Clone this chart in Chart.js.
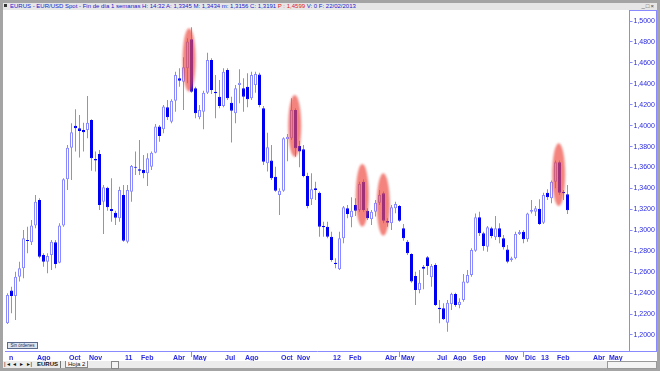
<!DOCTYPE html>
<html>
<head>
<meta charset="utf-8">
<script src="https://cdn.jsdelivr.net/npm/chart.js@4.4.1/dist/chart.umd.min.js"></script>
<style>
  html, body { margin: 0; padding: 0; width: 660px; height: 371px; overflow: hidden; background: #a4a4a4; font-family: "Liberation Sans", Arial, sans-serif; }
  #paper { position: absolute; left: 3px; top: 10px; width: 654px; height: 351px; background: #fff; }
  #title { position: absolute; left: 3px; top: 3px; width: 654px; height: 7px; background: #e6e6e6; color: #2020d0; font-size: 6px; line-height: 7px; white-space: nowrap; }
  #title .ico { display: inline-block; width: 3px; height: 3px; background: #333; margin: 0 3px 1px 1px; }
  #title .p { color: #e02020; }
  #ctl { position: absolute; right: 5px; top: 3px; font-size: 6px; line-height: 7px; color: #444; letter-spacing: 1px; }
  #c { position: absolute; left: 0; top: 10px; }
  #ybox { position: absolute; left: 629px; top: 10px; width: 26px; height: 340px; border: 1px solid #8a8aff; pointer-events: none; }
  #orders { position: absolute; left: 7px; top: 342px; width: 29px; height: 5px; border: 1px solid #5a6a8a; background: #dde6f0; color: #203060; font-size: 4.5px; line-height: 5px; text-align: center; }
  #tabs { position: absolute; left: 3px; top: 361px; width: 654px; height: 7px; background: #ececec; font-size: 6px; line-height: 7px; color: #111; }
  #tabs span { position: absolute; top: 0; }
  #nav { left: 1px; letter-spacing: 1px; }
  #t1 { left: 34px; font-weight: bold; border-right: 1px solid #777; padding-right: 2px; }
  #t2 { left: 62px; border: 1px solid #888; border-top: 0; padding: 0 2px; height: 6px; background: #f6f6f6; }
  #sc1 { left: 108px; width: 6px; height: 6px; border: 1px solid #888; background: #f4f4f4; }
  #sc2 { left: 604px; width: 48px; height: 6px; border: 1px solid #999; background: #f4f4f4; }
</style>
</head>
<body>
<div id="paper"></div>
<div id="title"><span class="ico"></span>EURUS - EUR/USD Spot - Fin de día 1 semanas H: 14:32 A: 1,3345 M: 1,3434 m: 1,3156 C: 1,3191 <span class="p">P : 1,4599</span> V: 0 F: 22/02/2013</div>
<div id="ctl">_□×</div>
<canvas id="c" width="660" height="351"></canvas>
<div id="ybox"></div>
<div id="orders">Sin órdenes</div>
<div id="tabs">
  <span id="nav">|◂ ◂ ▸ ▸|</span>
  <span id="t1">EURUS</span>
  <span id="t2">Hoja 2</span>
  <span id="sc1"></span>
  <span id="sc2"></span>
</div>
<script>
// EUR/USD weekly candles, week ending 18/06/2010 .. 22/02/2013
const openP = [
  1.2112, 1.2424, 1.2373, 1.2557, 1.2637, 1.2908, 1.2885, 1.3045, 1.3290, 1.2764,
  1.2701, 1.2764, 1.2885, 1.2691, 1.3045, 1.3487, 1.3790, 1.4000, 1.3975, 1.3959,
  1.3959, 1.4054, 1.3682, 1.3729, 1.3274, 1.3408, 1.3204, 1.3169, 1.3115, 1.3338,
  1.2892, 1.3369, 1.3608, 1.3583, 1.3577, 1.3545, 1.3608, 1.3742, 1.3991, 1.3965,
  1.4175, 1.4038, 1.4239, 1.4452, 1.4420, 1.4548, 1.4825, 1.4357, 1.4080, 1.4134,
  1.4315, 1.4627, 1.4325, 1.4277, 1.4188, 1.4532, 1.4220, 1.4118, 1.4389, 1.4357,
  1.4373, 1.4261, 1.4389, 1.4490, 1.4166, 1.3640, 1.3666, 1.3513, 1.3338, 1.3379,
  1.3870, 1.3879, 1.4150, 1.3806, 1.3774, 1.3519, 1.3296, 1.3401, 1.3360, 1.3041,
  1.3035, 1.2939, 1.2691, 1.2627, 1.2924, 1.3210, 1.3124, 1.3242, 1.3194, 1.3465,
  1.3188, 1.3105, 1.3178, 1.3264, 1.3354, 1.3089, 1.3067, 1.3210, 1.3233, 1.3019,
  1.2892, 1.2774, 1.2564, 1.2430, 1.2653, 1.2742, 1.2551, 1.2669, 1.2261, 1.2255,
  1.2118, 1.2296, 1.2392, 1.2287, 1.2334, 1.2500, 1.2573, 1.2806, 1.3124, 1.2971,
  1.2844, 1.3019, 1.2933, 1.3019, 1.2924, 1.2818, 1.2717, 1.2733, 1.2965, 1.2987,
  1.2914, 1.3178, 1.3178, 1.3207, 1.3073, 1.3360, 1.3306, 1.3465, 1.3650, 1.3366,
  1.3345
];
const highP = [
  1.2398, 1.2462, 1.2605, 1.2701, 1.3003, 1.3035, 1.3099, 1.3338, 1.3306, 1.2780,
  1.2780, 1.2908, 1.2908, 1.3067, 1.3497, 1.3815, 1.4022, 1.4156, 1.4102, 1.4029,
  1.4284, 1.4061, 1.3752, 1.3768, 1.3433, 1.3417, 1.3497, 1.3188, 1.3417, 1.3433,
  1.3433, 1.3624, 1.3752, 1.3863, 1.3720, 1.3736, 1.3752, 1.4016, 1.4006, 1.4198,
  1.4245, 1.4252, 1.4516, 1.4548, 1.4653, 1.4835, 1.4940, 1.4373, 1.4198, 1.4334,
  1.4697, 1.4643, 1.4484, 1.4436, 1.4548, 1.4548, 1.4277, 1.4389, 1.4539, 1.4452,
  1.4500, 1.4516, 1.4516, 1.4506, 1.4188, 1.3933, 1.3815, 1.3608, 1.3401, 1.3889,
  1.3920, 1.4261, 1.4166, 1.3857, 1.3815, 1.3551, 1.3545, 1.3465, 1.3370, 1.3083,
  1.3083, 1.2987, 1.2733, 1.2987, 1.3233, 1.3242, 1.3315, 1.3306, 1.3465, 1.3487,
  1.3210, 1.3194, 1.3290, 1.3385, 1.3370, 1.3115, 1.3242, 1.3274, 1.3242, 1.3061,
  1.2908, 1.2780, 1.2605, 1.2621, 1.2669, 1.2755, 1.2678, 1.2685, 1.2334, 1.2303,
  1.2334, 1.2404, 1.2404, 1.2350, 1.2583, 1.2621, 1.2828, 1.3162, 1.3178, 1.2987,
  1.3041, 1.3035, 1.3137, 1.3067, 1.2955, 1.2860, 1.2748, 1.2987, 1.3003, 1.3003,
  1.3169, 1.3290, 1.3232, 1.3296, 1.3360, 1.3392, 1.3475, 1.3666, 1.3666, 1.3385,
  1.3434
];
const lowP = [
  1.2105, 1.2207, 1.2143, 1.2510, 1.2541, 1.2780, 1.2860, 1.3019, 1.2733, 1.2653,
  1.2589, 1.2621, 1.2637, 1.2685, 1.3035, 1.3385, 1.3481, 1.3752, 1.3697, 1.3752,
  1.3879, 1.3570, 1.3561, 1.3194, 1.2965, 1.3188, 1.3083, 1.3051, 1.3083, 1.2892,
  1.2876, 1.3274, 1.3529, 1.3529, 1.3497, 1.3424, 1.3576, 1.3736, 1.3847, 1.3927,
  1.4054, 1.4022, 1.4134, 1.4373, 1.4150, 1.4405, 1.4315, 1.4070, 1.4061, 1.3965,
  1.4303, 1.4303, 1.4070, 1.4166, 1.4175, 1.4245, 1.3838, 1.4022, 1.4213, 1.4134,
  1.4175, 1.4245, 1.4315, 1.4175, 1.3624, 1.3561, 1.3481, 1.3369, 1.3147, 1.3369,
  1.3660, 1.3863, 1.3704, 1.3602, 1.3507, 1.3210, 1.3242, 1.3290, 1.2939, 1.2939,
  1.2924, 1.2701, 1.2637, 1.2621, 1.2876, 1.3115, 1.3029, 1.3137, 1.3178, 1.3178,
  1.3099, 1.3051, 1.3131, 1.3242, 1.3067, 1.3035, 1.3003, 1.3163, 1.3083, 1.2901,
  1.2764, 1.2500, 1.2287, 1.2398, 1.2436, 1.2573, 1.2462, 1.2277, 1.2112, 1.2143,
  1.2032, 1.2239, 1.2271, 1.2255, 1.2318, 1.2494, 1.2557, 1.2796, 1.2946, 1.2806,
  1.2796, 1.2924, 1.2908, 1.2876, 1.2818, 1.2685, 1.2701, 1.2723, 1.2955, 1.2876,
  1.2892, 1.3162, 1.3137, 1.3051, 1.3060, 1.3290, 1.3258, 1.3401, 1.3338, 1.3290,
  1.3156
];
const closeP = [
  1.2382, 1.2373, 1.2557, 1.2637, 1.2924, 1.2898, 1.3045, 1.3274, 1.2748, 1.2701,
  1.2755, 1.2892, 1.2678, 1.3045, 1.3487, 1.3790, 1.3936, 1.3975, 1.3949, 1.3936,
  1.4029, 1.3688, 1.3666, 1.3242, 1.3411, 1.3220, 1.3185, 1.3121, 1.3385, 1.2901,
  1.3385, 1.3615, 1.3599, 1.3570, 1.3545, 1.3688, 1.3742, 1.3991, 1.3901, 1.4182,
  1.4080, 1.4239, 1.4484, 1.4430, 1.4557, 1.4803, 1.4325, 1.4118, 1.4150, 1.4315,
  1.4627, 1.4341, 1.4309, 1.4188, 1.4516, 1.4261, 1.4143, 1.4357, 1.4411, 1.4277,
  1.4252, 1.4484, 1.4494, 1.4198, 1.3656, 1.3793, 1.3497, 1.3379, 1.3379, 1.3879,
  1.3895, 1.4150, 1.3784, 1.3752, 1.3519, 1.3233, 1.3392, 1.3385, 1.3035, 1.3029,
  1.2939, 1.2717, 1.2678, 1.2924, 1.3220, 1.3156, 1.3188, 1.3188, 1.3443, 1.3194,
  1.3115, 1.3178, 1.3264, 1.3338, 1.3092, 1.3073, 1.3220, 1.3252, 1.3092, 1.2924,
  1.2780, 1.2510, 1.2430, 1.2500, 1.2634, 1.2659, 1.2659, 1.2287, 1.2245, 1.2150,
  1.2309, 1.2392, 1.2287, 1.2318, 1.2510, 1.2573, 1.2812, 1.3124, 1.2971, 1.2850,
  1.3029, 1.2946, 1.3019, 1.2933, 1.2838, 1.2701, 1.2733, 1.2965, 1.2984, 1.2914,
  1.3162, 1.3194, 1.3210, 1.3060, 1.3338, 1.3315, 1.3465, 1.3650, 1.3360, 1.3354,
  1.3191
];

// axis: weekly slots (data + empty weeks up to May 2013)
const totalWeeks = 156;
const yTickValues = [1.20, 1.22, 1.24, 1.26, 1.28, 1.30, 1.32, 1.34, 1.36, 1.38, 1.40, 1.42, 1.44, 1.46, 1.48, 1.50];
const yMin = 1.18471, yMax = 1.51051;
const tickIndex = [0, 7, 15, 20, 29, 33, 41, 46, 54, 59, 68, 72, 81, 85, 94, 98, 107, 111, 116, 124, 129, 133, 137, 146, 150];
const tickText = ['n', 'Ago', 'Oct', 'Nov', '11', 'Feb', 'Abr', 'May', 'Jul', 'Ago', 'Oct', 'Nov', '12', 'Feb', 'Abr', 'May', 'Jul', 'Ago', 'Sep', 'Nov', 'Dic', '13', 'Feb', 'Abr', 'May'];

// red highlight marks: centre (week slot), top and bottom price
const hlCenter = [45.4, 71.8, 88.7, 93.95, 137.8];
const hlTop = [1.4930, 1.4293, 1.3634, 1.3545, 1.3831];
const hlBottom = [1.4325, 1.3701, 1.3035, 1.2949, 1.3232];

const weeks = [];
for (let i = 0; i < totalWeeks; i++) {
  weeks.push(new Date(Date.UTC(2010, 5, 18 + 7 * i)).toISOString().slice(0, 10));
}

const BLUE = '#0000f0';
const PALE = '#8a8aff';
const TXT = '#2a2ae0';
const isUp = (i) => closeP[i] >= openP[i];

const ellipses = {
  id: 'ellipses',
  afterDatasetsDraw(chart) {
    const { ctx, scales: { x, y } } = chart;
    ctx.save();
    ctx.filter = 'blur(0.8px)';
    ctx.fillStyle = 'rgba(238, 72, 62, 0.68)';
    hlCenter.forEach((c, i) => {
      const cx = x.getPixelForValue(c);
      const top = y.getPixelForValue(hlTop[i]);
      const bot = y.getPixelForValue(hlBottom[i]);
      ctx.beginPath();
      ctx.ellipse(cx, (top + bot) / 2, 6.5, (bot - top) / 2, 0, 0, Math.PI * 2);
      ctx.fill();
    });
    ctx.restore();
  }
};

new Chart(document.getElementById('c'), {
  type: 'bar',
  data: {
    labels: weeks,
    datasets: [
      {
        label: 'cuerpo',
        data: openP.map((o, i) => [o, closeP[i]]),
        grouped: false,
        barThickness: 3,
        borderWidth: 1,
        borderSkipped: false,
        minBarLength: 1,
        inflateAmount: 0,
        backgroundColor: (c) => isUp(c.dataIndex) ? '#ffffff' : BLUE,
        borderColor: (c) => isUp(c.dataIndex) ? PALE : BLUE,
      },
      {
        label: 'mecha',
        data: lowP.map((l, i) => [l, highP[i]]),
        grouped: false,
        barThickness: 1,
        borderWidth: 0,
        inflateAmount: 0,
        backgroundColor: PALE,
      },
    ],
  },
  options: {
    responsive: false,
    animation: false,
    layout: { padding: { left: 5.5, right: 4.5, top: 0, bottom: 0 } },
    plugins: { legend: { display: false }, tooltip: { enabled: false } },
    scales: {
      x: {
        offset: true,
        grid: {
          offset: false,
          drawOnChartArea: false,
          tickLength: 6,
          tickColor: (c) => tickIndex.indexOf(c.index) > 0 ? PALE : 'rgba(0,0,0,0)',
        },
        border: { color: PALE },
        ticks: {
          autoSkip: false,
          maxRotation: 0,
          align: 'start',
          labelOffset: 1.5,
          padding: -3,
          color: TXT,
          font: { size: 7, weight: 'bold', family: 'Liberation Sans' },
          callback: (v, i) => {
            const k = tickIndex.indexOf(i);
            return k < 0 ? null : tickText[k];
          },
        },
        afterFit: (s) => { s.height = 10; s.paddingLeft = 0; s.paddingRight = 0; },
      },
      y: {
        position: 'right',
        min: yMin,
        max: yMax,
        grid: { drawOnChartArea: false, tickLength: 3, tickColor: PALE },
        border: { display: false },
        afterBuildTicks: (s) => { s.ticks = yTickValues.map((v) => ({ value: v })); },
        ticks: {
          padding: 1,
          color: TXT,
          font: { size: 7, family: 'Liberation Sans' },
          callback: (v) => v.toFixed(4).replace('.', ','),
        },
        afterFit: (s) => { s.width = 26; s.paddingTop = 0; s.paddingBottom = 0; },
      },
    },
  },
  plugins: [ellipses],
});
</script>
</body>
</html>
